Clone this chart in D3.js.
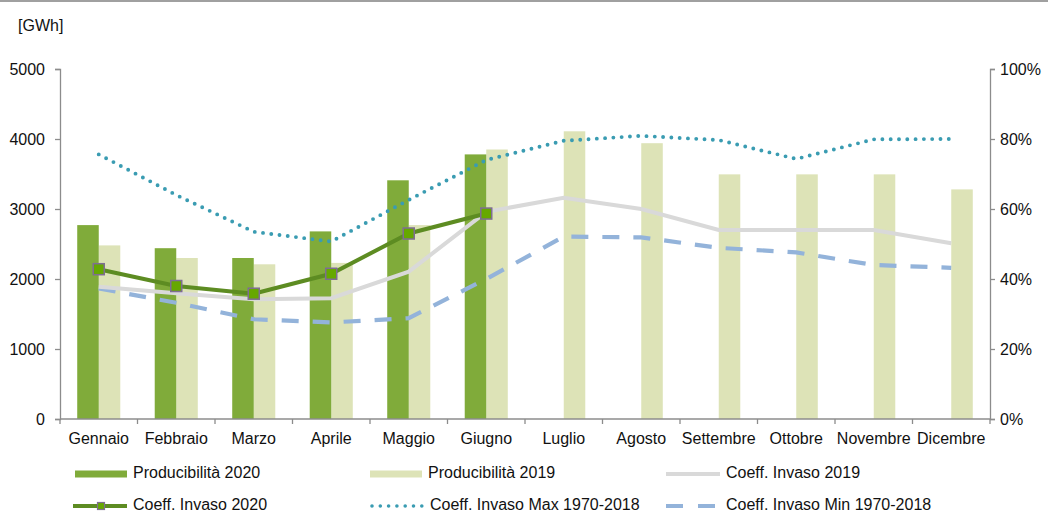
<!DOCTYPE html>
<html><head><meta charset="utf-8">
<script src="https://cdn.jsdelivr.net/npm/d3@7"></script>
<style>body{margin:0;background:#fff;}svg{display:block;font-family:"Liberation Sans",Arial,sans-serif;}</style>
</head><body>
<script>
const months = ["Gennaio","Febbraio","Marzo","Aprile","Maggio","Giugno","Luglio","Agosto","Settembre","Ottobre","Novembre","Dicembre"];
const prod2020 = [2770,2440,2300,2680,3410,3780,null,null,null,null,null,null];
const prod2019 = [2480,2300,2210,2230,2770,3850,4110,3940,3495,3495,3495,3280];
const coeff2019 = [37.8,35.9,34.2,34.5,42.1,59.2,63.2,60.0,54.0,54.0,54.0,50.2];
const coeff2020 = [42.8,38.0,35.8,41.5,53.0,58.7,null,null,null,null,null,null];
const coeffMax = [75.6,64.0,53.5,50.7,62.6,74.0,79.5,80.9,79.7,74.3,79.9,80.0];
const coeffMin = [37.3,33.2,28.5,27.6,28.8,40.0,52.1,51.9,48.9,47.6,44.0,43.2];
const leftTicks = [0,1000,2000,3000,4000,5000];
const rightTicks = [0,20,40,60,80,100];

const W=1048,H=513;
const svg=d3.select("body").append("svg").attr("width",W).attr("height",H);
const x0=60,x1=990,yTop=69,yBot=419;
const x=d3.scaleBand().domain(months).range([x0,x1]).paddingInner(0).paddingOuter(0);
const xs=d3.scaleBand().domain(["a","b"]).range([0,x.bandwidth()]).paddingInner(0.0).paddingOuter(0.8);
const yL=d3.scaleLinear().domain([0,5000]).range([yBot,yTop]);
const yR=d3.scaleLinear().domain([0,100]).range([yBot,yTop]);

svg.append("rect").attr("x",0).attr("y",0).attr("width",W).attr("height",2).attr("fill","#a0a0a0");

const C={g20:"#80ab3a",g19:"#dde3b7",l20:"#5d8c22",l19:"#d9d9d9",max:"#3a9cb2",min:"#93b3da",mk:"#66a800",mks:"#7e6e91",axis:"#8c8c8c",txt:"#111"};
const FS=16;

// bars
const bw=xs.bandwidth();
svg.append("g").selectAll("rect").data(months.map((m,i)=>({m,v:prod2019[i]}))).join("rect")
 .attr("x",d=>x(d.m)+xs("b")).attr("width",bw).attr("y",d=>yL(d.v)).attr("height",d=>yBot-yL(d.v)).attr("fill",C.g19);
svg.append("g").selectAll("rect").data(months.map((m,i)=>({m,v:prod2020[i]})).filter(d=>d.v!=null)).join("rect")
 .attr("x",d=>x(d.m)+xs("a")).attr("width",bw).attr("y",d=>yL(d.v)).attr("height",d=>yBot-yL(d.v)).attr("fill",C.g20);

const cx=m=>x(m)+x.bandwidth()/2;
const line=d3.line().defined(d=>d.v!=null).x(d=>cx(d.m)).y(d=>yR(d.v));
const ser=a=>months.map((m,i)=>({m,v:a[i]}));

svg.append("path").datum(ser(coeffMin)).attr("d",line).attr("fill","none").attr("stroke",C.min).attr("stroke-width",4.2).attr("stroke-dasharray","17,14");
svg.append("path").datum(ser(coeffMax)).attr("d",line).attr("fill","none").attr("stroke",C.max).attr("stroke-width",3.9).attr("stroke-dasharray","0,8.3").attr("stroke-linecap","round");
svg.append("path").datum(ser(coeff2019)).attr("d",line).attr("fill","none").attr("stroke",C.l19).attr("stroke-width",4);
svg.append("path").datum(ser(coeff2020)).attr("d",line).attr("fill","none").attr("stroke",C.l20).attr("stroke-width",4);
svg.append("g").selectAll("rect").data(ser(coeff2020).filter(d=>d.v!=null)).join("rect")
 .attr("x",d=>cx(d.m)-5.5).attr("y",d=>yR(d.v)-5.5).attr("width",11).attr("height",11)
 .attr("fill",C.mk).attr("stroke",C.mks).attr("stroke-width",1.5);

// axes
const styleAxis=g=>{g.selectAll("path,line").attr("stroke",C.axis).attr("stroke-width",1.3);g.selectAll("text").attr("fill",C.txt).attr("font-size",FS).attr("font-family","Liberation Sans, Arial, sans-serif");};
svg.append("g").attr("transform",`translate(${x0},0)`).call(d3.axisLeft(yL).tickValues(leftTicks).tickFormat(d3.format("d")).tickSize(5).tickSizeOuter(5).tickPadding(10)).call(styleAxis);
svg.append("g").attr("transform",`translate(${x1},0)`).call(d3.axisRight(yR).tickValues(rightTicks).tickFormat(d=>d+"%").tickSize(5).tickSizeOuter(5).tickPadding(5)).call(styleAxis);
const xa=svg.append("g").attr("transform",`translate(0,${yBot})`).call(d3.axisBottom(x).tickSize(0).tickPadding(14)).call(styleAxis);
xa.select(".domain").attr("d",`M${x0},0H${x1}`);
const bounds=months.map(m=>x(m)).concat([x1]);
xa.selectAll("line.b").data(bounds).join("line").attr("class","b").attr("x1",d=>d).attr("x2",d=>d).attr("y1",0).attr("y2",5).attr("stroke",C.axis).attr("stroke-width",1.3);

svg.append("text").attr("x",18).attr("y",31).attr("font-size",FS).attr("fill",C.txt).text("[GWh]");

// legend
const leg=[
 {t:"Producibilità 2020",type:"bar",c:C.g20,x:75,y:474},
 {t:"Producibilità 2019",type:"bar",c:C.g19,x:370,y:474},
 {t:"Coeff. Invaso 2019",type:"line",c:C.l19,x:666,y:474},
 {t:"Coeff. Invaso 2020",type:"mline",c:C.l20,x:73,y:506},
 {t:"Coeff. Invaso Max 1970-2018",type:"dot",c:C.max,x:370,y:506},
 {t:"Coeff. Invaso Min 1970-2018",type:"dash",c:C.min,x:666,y:506}];
const lg=svg.append("g").selectAll("g").data(leg).join("g").attr("transform",d=>`translate(${d.x},${d.y})`);
lg.each(function(d){
 const g=d3.select(this);
 if(d.type==="bar") g.append("rect").attr("x",0).attr("y",-3.5).attr("width",52).attr("height",7).attr("fill",d.c);
 else {
  const l=g.append("line").attr("x1",0).attr("x2",54).attr("y1",0).attr("y2",0).attr("stroke",d.c).attr("stroke-width",d.type==="dot"?3.6:4);
  if(d.type==="dot") l.attr("stroke-dasharray","0,8.3").attr("stroke-linecap","round").attr("x1",2);
  if(d.type==="dash") l.attr("stroke-dasharray","17,15");
  if(d.type==="mline") g.append("rect").attr("x",24.5).attr("y",-3.5).attr("width",7).attr("height",7).attr("fill",C.mk).attr("stroke",C.mks).attr("stroke-width",1.2);
 }
 g.append("text").attr("x",d.type==="bar"?58:60).attr("y",4).attr("font-size",FS).attr("fill",C.txt).text(d.t);
});
</script>
</body></html>
